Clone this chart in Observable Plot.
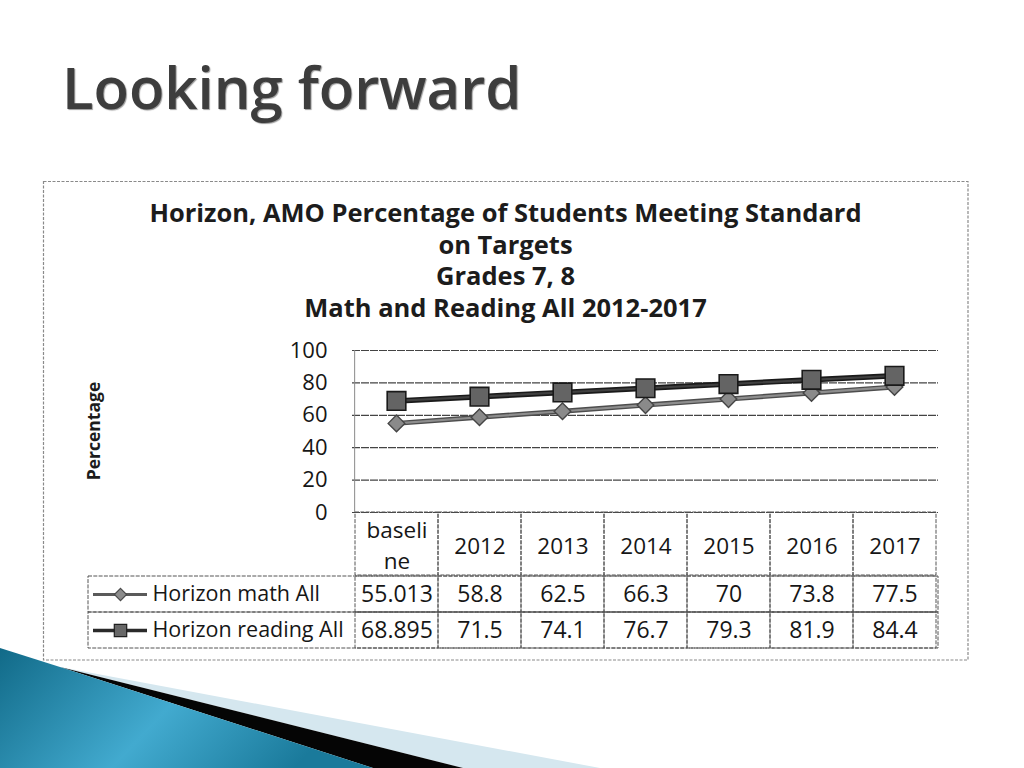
<!DOCTYPE html>
<html>
<head>
<meta charset="utf-8">
<script src="https://cdn.jsdelivr.net/npm/d3@7"></script>
<script src="https://cdn.jsdelivr.net/npm/@observablehq/plot@0.6"></script>
<style>
  body { margin: 0; background: #fff; }
  #slide { position: relative; width: 1024px; height: 768px; overflow: hidden; background: #fff; font-family: "Open Sans", sans-serif; }
  .abs { position: absolute; }
  #slide svg { overflow: visible; }
  #title { left: 62px; top: 58px; font-size: 58px; font-weight: 600; line-height: 1; color: #3d3d3d; white-space: nowrap;
           text-shadow: 1px 1px 1px rgba(0,0,0,0.4), -1px -1px 0 rgba(255,255,255,0.6); }
  #ctitle { left: 43px; width: 925px; top: 197px; text-align: center; font-size: 25.5px; font-weight: 700; line-height: 31.5px; color: #1c1c1c; }
  #ylab { left: 93px; top: 431px; transform: translate(-50%, -50%) rotate(-90deg); font-size: 17.5px; font-weight: 700; color: #1c1c1c; white-space: nowrap; }
</style>
</head>
<body>
<div id="slide">
  <svg id="decor" class="abs" width="1024" height="768" style="left:0;top:0">
    <defs>
      <linearGradient id="teal" x1="0" y1="0" x2="1" y2="0.3">
        <stop offset="0" stop-color="#116a88"/>
        <stop offset="0.55" stop-color="#42aacf"/>
        <stop offset="1" stop-color="#1a7a9b"/>
      </linearGradient>
    </defs>
    <polygon points="60,667 600,768 463,768" fill="#d5e7ef"/>
    <polygon points="60,667 463,768 373,768" fill="#050505"/>
    <polygon points="0,648 60,667 373,768 0,768" fill="url(#teal)"/>
    <rect x="43.5" y="181.5" width="924.5" height="478.5" fill="none" stroke="#8a8a8a" stroke-width="1.2" stroke-dasharray="3 1.5"/>
  </svg>
  <div id="title" class="abs">Looking forward</div>
  <div id="ctitle" class="abs">Horizon, AMO Percentage of Students Meeting Standard<br>on Targets<br>Grades 7, 8<br>Math and Reading All 2012-2017</div>
  <div id="ylab" class="abs">Percentage</div>
  <div id="chartA" class="abs" style="left:43px;top:330px"></div>
  <div id="chartH" class="abs" style="left:43px;top:512px"></div>
  <div id="chartR" class="abs" style="left:43px;top:575px"></div>
</div>
<script>
// ---- data ----
const categories = ["baseline", "2012", "2013", "2014", "2015", "2016", "2017"];
const headerLabels = ["baseli\nne", "2012", "2013", "2014", "2015", "2016", "2017"];
const seriesNames = ["Horizon math All", "Horizon reading All"];
const mathValues = [55.013, 58.8, 62.5, 66.3, 70, 73.8, 77.5];
const readingValues = [68.895, 71.5, 74.1, 76.7, 79.3, 81.9, 84.4];
const yTicks = [0, 20, 40, 60, 80, 100];

// ---- layout ----
const W = 925, ML = 309, MR = 30;
const frameW = W - ML - MR;
const step = frameW / categories.length;
const frameLeftAbs = 43 + ML; // 352
const ink = "#161616";
const tableStroke = "#555";
const tableDash = "4 1.3";

const mathPts = categories.map((c, i) => ({cat: c, value: mathValues[i]}));
const readPts = categories.map((c, i) => ({cat: c, value: readingValues[i]}));
const rows = [];
categories.forEach((c, i) => {
  rows.push({series: seriesNames[0], cat: c, value: mathValues[i]});
  rows.push({series: seriesNames[1], cat: c, value: readingValues[i]});
});

const styleBase = {background: "transparent", overflow: "visible", fontFamily: "'Open Sans', sans-serif", color: ink};

// ---- chart ----
const chartA = Plot.plot({
  width: W, height: 182, marginLeft: ML, marginRight: MR, marginTop: 20, marginBottom: 0,
  style: styleBase,
  x: {type: "point", domain: categories, padding: 0.5, axis: null},
  y: {domain: [0, 100]},
  marks: [
    Plot.ruleY(yTicks, {stroke: "#444", strokeWidth: 1.2, strokeDasharray: "8 1"}),
    Plot.ruleX([categories[0]], {dx: -step / 2, stroke: "#8a8a8a", strokeWidth: 1}),
    Plot.axisY(yTicks, {tickSize: 0, tickPadding: 25, fontSize: 22, label: null}),
    Plot.line(mathPts, {x: "cat", y: "value", stroke: "#4d4d4d", strokeWidth: 5}),
    Plot.line(mathPts, {x: "cat", y: "value", stroke: "#8e8e8e", strokeWidth: 2.2}),
    Plot.line(readPts, {x: "cat", y: "value", stroke: "#1a1a1a", strokeWidth: 5.5}),
    Plot.line(readPts, {x: "cat", y: "value", stroke: "#404040", strokeWidth: 2.2}),
    Plot.dot(mathPts, {x: "cat", y: "value", symbol: "diamond2", r: 7.5, fill: "#8a8a8a", stroke: "#454545", strokeWidth: 1.4}),
    Plot.dot(readPts, {x: "cat", y: "value", symbol: "square", r: 10.5, fill: "#646464", stroke: "#1a1a1a", strokeWidth: 1.6})
  ]
});
document.getElementById("chartA").appendChild(chartA);

// ---- header row ----
const chartH = Plot.plot({
  width: W, height: 63, marginLeft: ML, marginRight: MR, marginTop: 0, marginBottom: 0,
  style: styleBase,
  x: {type: "band", domain: categories, padding: 0, axis: null},
  marks: [
    Plot.cell(categories, {x: d => d, fill: "none", stroke: tableStroke, strokeDasharray: tableDash}),
    Plot.text(categories, {x: d => d, text: (d, i) => headerLabels[i], frameAnchor: "middle", fontSize: 22.5, lineHeight: 1.38, fill: ink})
  ]
});
document.getElementById("chartH").appendChild(chartH);

// ---- value rows ----
const legendLeft = 88, swatchL = 93, swatchR = 147, markerX = 120, legendTextX = 152;
const chartR = Plot.plot({
  width: W, height: 73, marginLeft: ML, marginRight: MR, marginTop: 0, marginBottom: 0,
  style: styleBase,
  x: {type: "band", domain: categories, padding: 0, axis: null},
  y: {type: "band", domain: seriesNames, padding: 0, axis: null},
  marks: [
    Plot.cell(seriesNames, {y: d => d, insetLeft: -(frameLeftAbs - legendLeft), fill: "none", stroke: tableStroke, strokeDasharray: tableDash}),
    Plot.cell(rows, {x: "cat", y: "series", fill: "none", stroke: tableStroke, strokeDasharray: tableDash}),
    Plot.text(rows, {x: "cat", y: "series", text: d => String(d.value), fontSize: 23, fill: ink}),
    Plot.ruleY([seriesNames[0]], {y: d => d, insetLeft: -(frameLeftAbs - swatchL), insetRight: frameW + (frameLeftAbs - swatchR), stroke: "#5a5a5a", strokeWidth: 3}),
    Plot.ruleY([seriesNames[1]], {y: d => d, insetLeft: -(frameLeftAbs - swatchL), insetRight: frameW + (frameLeftAbs - swatchR), stroke: "#2a2a2a", strokeWidth: 3.5}),
    Plot.dot([seriesNames[0]], {y: d => d, frameAnchor: "left", dx: -(frameLeftAbs - markerX), symbol: "diamond2", r: 5.5, fill: "#8c8c8c", stroke: "#4a4a4a", strokeWidth: 1.2}),
    Plot.dot([seriesNames[1]], {y: d => d, frameAnchor: "left", dx: -(frameLeftAbs - markerX), symbol: "square", r: 7, fill: "#676767", stroke: "#1e1e1e", strokeWidth: 1.2}),
    Plot.text(seriesNames, {y: d => d, text: d => d, frameAnchor: "left", textAnchor: "start", dx: -(frameLeftAbs - legendTextX), fontSize: 21.5, fill: ink})
  ]
});
document.getElementById("chartR").appendChild(chartR);
</script>
</body>
</html>
